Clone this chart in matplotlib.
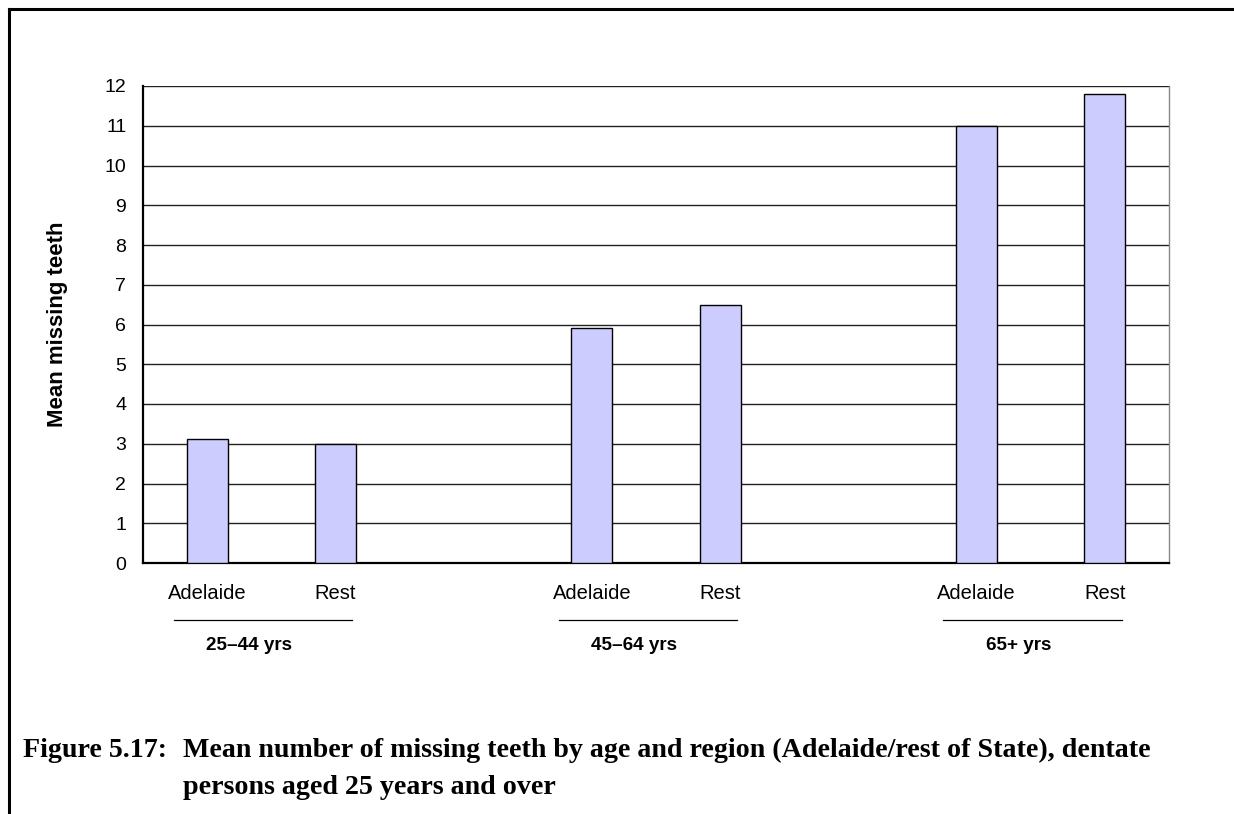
import matplotlib.pyplot as plt
from matplotlib.lines import Line2D
import matplotlib.transforms as mtransforms

# Data
age_groups = ["25\u201344 yrs", "45\u201364 yrs", "65+ yrs"]
regions = ["Adelaide", "Rest"]
adelaide = [3.12, 5.9, 11.0]
rest = [3.0, 6.5, 11.8]
y_ticks = list(range(0, 13))

fig = plt.figure(figsize=(12.34, 8.14), dpi=100)
W, H = 1234, 814

ax = fig.add_axes([143 / W, 1 - 563 / H, (1169 - 143) / W, (563 - 86) / H])

# bars at slots 0,1 | 3,4 | 6,7 (one empty slot between age groups)
positions, heights, labels = [], [], []
for g in range(len(age_groups)):
    base = g * 3
    positions += [base, base + 1]
    heights += [adelaide[g], rest[g]]
    labels += regions

ax.bar(positions, heights, width=0.32, color="#CCCCFF", edgecolor="black",
       linewidth=1.0, zorder=3)

ax.set_xlim(-0.5, 7.5)
ax.set_ylim(0, 12)
ax.set_yticks(y_ticks)
ax.set_yticklabels([str(v) for v in y_ticks], fontsize=14, family="Liberation Sans")
ax.set_xticks(positions)
ax.set_xticklabels(labels, fontsize=14.5, family="Liberation Sans")
ax.tick_params(axis="both", length=0)
ax.tick_params(axis="x", pad=15)
ax.tick_params(axis="y", pad=12)

ax.yaxis.grid(True, color="#222222", linewidth=1.0, zorder=0)
ax.set_axisbelow(True)
ax.spines["top"].set_visible(False)
ax.spines["right"].set_color("#888888")
ax.spines["right"].set_linewidth(1.0)
ax.spines["left"].set_linewidth(1.6)
ax.spines["bottom"].set_linewidth(1.6)

ax.set_ylabel("Mean missing teeth", fontsize=16, fontweight="bold",
              family="Liberation Sans", labelpad=26)

# age-group underlines and labels below the category labels
trans = mtransforms.blended_transform_factory(ax.transData, ax.transAxes)
for g, name in enumerate(age_groups):
    base = g * 3
    ax.add_line(Line2D([base - 0.26, base + 1 + 0.13], [-0.12, -0.12],
                       transform=trans, color="black", linewidth=0.9,
                       clip_on=False))
    ax.text(base + 0.33, -0.174, name, transform=trans, ha="center", va="center",
            fontsize=13.6, fontweight="bold", family="Liberation Sans")

# frame lines along top and left
fig.add_artist(Line2D([9 / W, 1.0], [1 - 9 / H, 1 - 9 / H], color="black",
                      linewidth=2.2, transform=fig.transFigure))
fig.add_artist(Line2D([9 / W, 9 / W], [1 - 9 / H, 0.0], color="black",
                      linewidth=2.2, transform=fig.transFigure))

# caption
cap_kw = dict(fontsize=20.2, fontweight="bold", family="Liberation Serif",
              va="baseline", ha="left")
fig.text(23 / W, 1 - 757 / H, "Figure 5.17:", **cap_kw)
fig.text(183 / W, 1 - 757 / H,
         "Mean number of missing teeth by age and region (Adelaide/rest of State), dentate",
         **cap_kw)
fig.text(183 / W, 1 - 794 / H, "persons aged 25 years and over", **cap_kw)

fig.savefig("out.png", dpi=100)
